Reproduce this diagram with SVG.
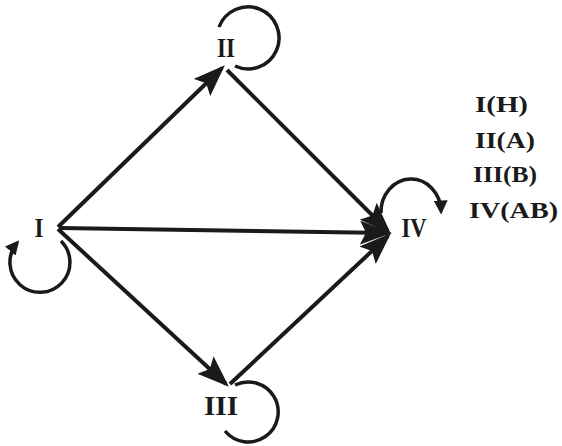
<svg xmlns="http://www.w3.org/2000/svg" width="562" height="446" viewBox="0 0 562 446">
<style>
.e{stroke:#1a1a1a;stroke-width:4;fill:none}
.l{stroke:#1a1a1a;stroke-width:3.5;fill:none}
text{font-family:"Liberation Serif",serif;font-weight:bold;fill:#1a1a1a}
.n{font-size:27px}
.k{font-size:24px}
</style>
<defs>
<marker id="a" markerWidth="8" markerHeight="6" refX="7" refY="3" orient="auto" markerUnits="strokeWidth">
<path d="M0,0 L8,3 L0,6 L1.5,3 Z" fill="#1a1a1a"/>
</marker>
<marker id="s" markerWidth="4" markerHeight="4" refX="3" refY="2" orient="auto" markerUnits="strokeWidth">
<path d="M0,0 L4,2 L0,4 Z" fill="#1a1a1a"/>
</marker>
</defs>
<rect width="562" height="446" fill="#fff"/>
<g id="edges">
<line class="e" x1="58" y1="227" x2="222" y2="68" marker-end="url(#a)"/>
<line class="e" x1="227" y1="70" x2="388" y2="231" marker-end="url(#a)"/>
<line class="e" x1="60" y1="228" x2="388" y2="233" marker-end="url(#a)"/>
<line class="e" x1="58" y1="229" x2="226" y2="384" marker-end="url(#a)"/>
<line class="e" x1="230" y1="384" x2="388" y2="236" marker-end="url(#a)"/>
</g>
<g id="node-I">
<text class="n" x="39" y="237" text-anchor="middle" textLength="9" lengthAdjust="spacingAndGlyphs">I</text>
<path class="l" d="M61,241 A30,30 0 1 1 17,243" marker-end="url(#s)"/>
</g>
<g id="node-II">
<text class="n" x="226" y="57" text-anchor="middle" textLength="18" lengthAdjust="spacingAndGlyphs">II</text>
<path class="l" d="M219,27 A31,31 0 1 1 235,66"/>
</g>
<g id="node-III">
<text class="n" x="221" y="415" text-anchor="middle" textLength="34" lengthAdjust="spacingAndGlyphs">III</text>
<path class="l" d="M235,385 A30,30 0 1 1 225,431"/>
</g>
<g id="node-IV">
<text class="n" x="414" y="237" text-anchor="middle" textLength="25" lengthAdjust="spacingAndGlyphs">IV</text>
<path class="l" d="M381,213 A30,33 0 0 1 441,211" marker-end="url(#s)"/>
</g>
<g id="legend">
<text class="k" x="475" y="112" textLength="53" lengthAdjust="spacingAndGlyphs">I(H)</text>
<text class="k" x="475" y="148" textLength="60" lengthAdjust="spacingAndGlyphs">II(A)</text>
<text class="k" x="473" y="182" textLength="64" lengthAdjust="spacingAndGlyphs">III(B)</text>
<text class="k" x="469" y="218" textLength="89" lengthAdjust="spacingAndGlyphs">IV(AB)</text>
</g>
</svg>
